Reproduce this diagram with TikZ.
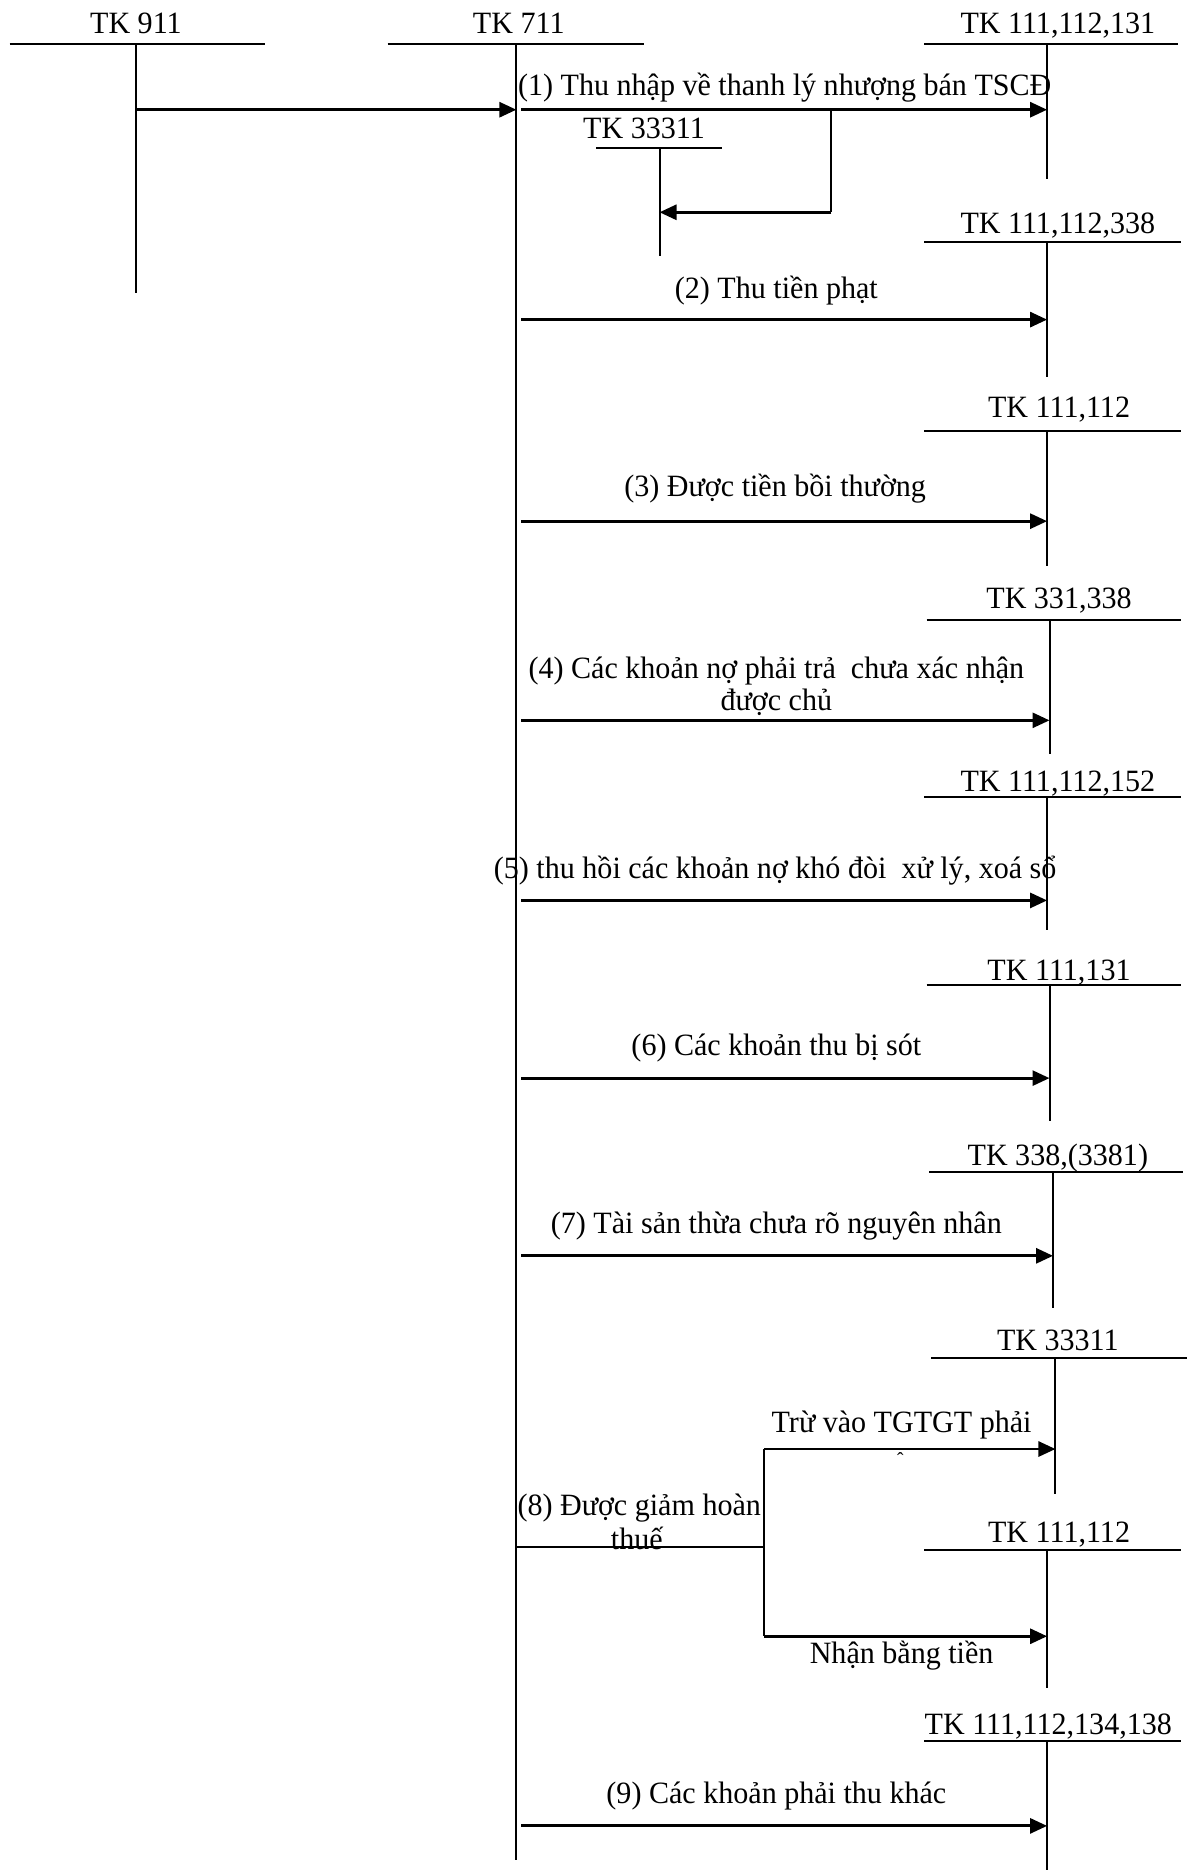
\documentclass[tikz,border=0pt]{standalone}
\usepackage{fontspec}
\setmainfont[FakeStretch=0.97]{Liberation Serif}
\usetikzlibrary{arrows.meta}
\newcommand\tacct[9]{%
  \node[lbl] (#1) at (#3,#4) {#2};
  \coordinate (#1-l) at (#6,#5);
  \coordinate (#1-r) at (#7,#5);
  \coordinate (#1-top) at (#8,#5);
  \coordinate (#1-bot) at (#8,#9);
  \draw[tline] (#1-l) -- (#1-r);
  \draw[tline] (#1-top) -- (#1-bot);
}
\begin{document}
\begin{tikzpicture}[x=1.1926pt,y=-1.1926pt,
  tline/.style={line width=2pt},
  plain/.style={line width=2pt},
  arr/.style={line width=2.8pt,-{Triangle[length=17pt,width=15pt]}},
  lbl/.style={font=\fontsize{31}{36}\selectfont, inner sep=0pt, anchor=base},
  ]
\useasboundingbox[fill=white] (0,0) rectangle (1002,1568);

\tacct{k911}{TK 911}{114}{28}{37}{8}{222}{114}{246}
\tacct{k711}{TK 711}{435}{28}{37}{325}{540}{433}{1560}
\tacct{kA}{TK 111,112,131}{887}{28}{37}{775}{988}{878}{150}
\tacct{kS}{TK 33311}{540}{116}{124}{500}{605}{553}{215}
\tacct{kB}{TK 111,112,338}{887}{196}{203}{775}{990}{878}{316}
\tacct{kC}{TK 111,112}{888}{350}{361}{775}{990}{878}{475}
\tacct{kD}{TK 331,338}{888}{510}{520}{777}{990}{880}{632}
\tacct{kE}{TK 111,112,152}{887}{664}{668}{775}{990}{878}{780}
\tacct{kF}{TK 111,131}{888}{822}{826}{777}{990}{880}{940}
\tacct{kG}{TK 338,(3381)}{887}{977}{983}{779}{992}{883}{1097}
\tacct{kH}{TK 33311}{887}{1132}{1139}{781}{995}{885}{1253}
\tacct{kI}{TK 111,112}{888}{1293}{1300}{775}{990}{878}{1415}
\tacct{kJ}{TK 111,112,134,138}{879}{1454}{1460}{775}{990}{878}{1568}

% 911 -> 711
\coordinate (p0) at (114,92);
\draw[arr] (p0) -- (p0 -| k711-top);

% (1)
\coordinate (p1) at (437,92);
\draw[arr] (p1) -- (p1 -| kA-top);
\node[lbl] (l1) at (658,80) {(1) Thu nhập về thanh lý nhượng bán TSCĐ};
\coordinate (b1) at (697,92);
\coordinate (b2) at (697,178);
\draw[plain] (b1) -- (b2);
\draw[arr] (b2) -- (b2 -| kS-top);

% (2)
\coordinate (p2) at (437,268);
\draw[arr] (p2) -- (p2 -| kB-top);
\node[lbl] (l2) at (651,250) {(2) Thu tiền phạt};

% (3)
\coordinate (p3) at (437,437);
\draw[arr] (p3) -- (p3 -| kC-top);
\node[lbl] (l3) at (650,416) {(3) Được tiền bồi thường};

% (4)
\coordinate (p4) at (437,604);
\draw[arr] (p4) -- (p4 -| kD-top);
\node[lbl] (l4a) at (651,569) {(4) Các khoản nợ phải trả\ \ chưa xác nhận};
\node[lbl] (l4b) at (651,596) {được chủ};

% (5)
\coordinate (p5) at (437,755);
\draw[arr] (p5) -- (p5 -| kE-top);
\node[lbl] (l5) at (650,737) {(5) thu hồi các khoản nợ khó đòi\ \ xử lý, xoá sổ};

% (6)
\coordinate (p6) at (437,904);
\draw[arr] (p6) -- (p6 -| kF-top);
\node[lbl] (l6) at (651,885) {(6) Các khoản thu bị sót};

% (7)
\coordinate (p7) at (437,1053);
\draw[arr] (p7) -- (p7 -| kG-top);
\node[lbl] (l7) at (651,1034) {(7) Tài sản thừa chưa rõ nguyên nhân};

% (8)
\coordinate (p8) at (433,1297);
\coordinate (q8) at (641,1297);
\coordinate (u8) at (641,1215);
\coordinate (d8) at (641,1372);
\draw[plain] (p8) -- (q8);
\draw[plain] (u8) -- (d8);
\draw[arr] (u8) -- (u8 -| kH-top);
\draw[arr] (d8) -- (d8 -| kI-top);
\node[lbl] (l8a) at (536,1271) {(8) Được giảm hoàn};
\node[lbl] (l8b) at (534,1299) {thuế};
\node[lbl] (l8c) at (756,1201) {Trừ vào TGTGT phải};
\node[lbl,font=\fontsize{20}{20}\selectfont] (l8d) at (755,1230) {ˆ};
\node[lbl] (l8e) at (756,1395) {Nhận bằng tiền};

% (9)
\coordinate (p9) at (437,1531);
\draw[arr] (p9) -- (p9 -| kJ-top);
\node[lbl] (l9) at (651,1512) {(9) Các khoản phải thu khác};
\end{tikzpicture}
\end{document}
